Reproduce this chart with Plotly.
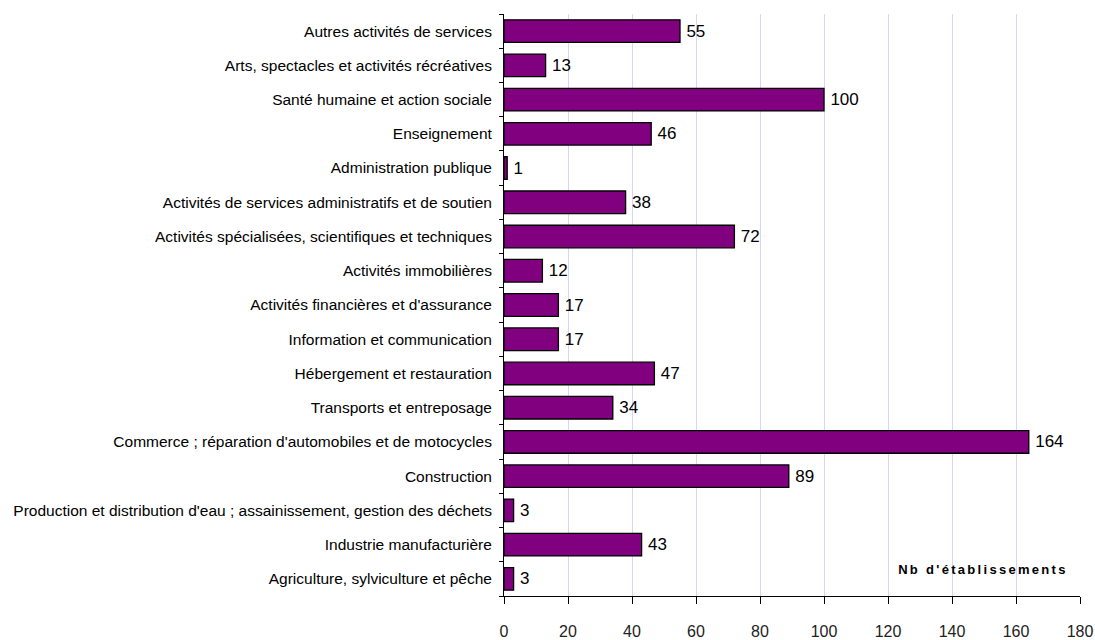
import plotly.graph_objects as go

categories = [
    "Agriculture, sylviculture et pêche",
    "Industrie manufacturière",
    "Production et distribution d'eau ; assainissement, gestion des déchets",
    "Construction",
    "Commerce ; réparation d'automobiles et de motocycles",
    "Transports et entreposage",
    "Hébergement et restauration",
    "Information et communication",
    "Activités financières et d'assurance",
    "Activités immobilières",
    "Activités spécialisées, scientifiques et techniques",
    "Activités de services administratifs et de soutien",
    "Administration publique",
    "Enseignement",
    "Santé humaine et action sociale",
    "Arts, spectacles et activités récréatives",
    "Autres activités de services",
]
values = [3, 43, 3, 89, 164, 34, 47, 17, 17, 12, 72, 38, 1, 46, 100, 13, 55]
x_ticks = [0, 20, 40, 60, 80, 100, 120, 140, 160, 180]
x_title = "Nb d'établissements"

fig = go.Figure(go.Bar(
    y=categories, x=values, orientation="h",
    marker=dict(color="#800080", line=dict(color="black", width=1.3)),
    width=0.66,
    texttemplate="\u2009%{x}", textposition="outside",
    textfont=dict(family="Liberation Sans, Arial", size=17, color="black"),
    cliponaxis=False,
))

fig.update_layout(
    width=1095, height=640,
    margin=dict(l=504, r=15, t=14, b=44),
    plot_bgcolor="white", paper_bgcolor="white",
    showlegend=False,
    font=dict(family="Liberation Sans, Arial", color="black"),
    xaxis=dict(
        range=[0, 180], tickvals=x_ticks, showgrid=True, gridcolor="#d4d4ff", gridwidth=1,
        zeroline=False, showline=True, linecolor="black", linewidth=1,
        ticks="outside", ticklen=7, tickcolor="black", automargin=False,
        tickfont=dict(size=16, color="#222"), ticklabelstandoff=14,
    ),
    yaxis=dict(
        type="category", categoryorder="array", categoryarray=categories,
        showline=True, linecolor="black", linewidth=1, showgrid=False,
        ticks="outside", ticklen=4, tickcolor="black", tickson="boundaries",
        tickfont=dict(size=15.5, color="black"), ticklabelstandoff=8, automargin=False,
        range=[-0.5, len(categories) - 0.5],
    ),
    annotations=[dict(
        text=f"<b>{x_title}</b>", x=(983 - 504) / 3.2, y=0.27, xref="x", yref="y",
        xanchor="center", yanchor="middle", showarrow=False,
        font=dict(size=13, family="Liberation Sans, Arial", color="black"),
    )],
)

post = (
    "document.body.style.margin='0';"
    "document.body.style.overflow='hidden';"
    "document.querySelectorAll('.annotation-text').forEach(function(e){e.style.letterSpacing='2.3px';});"
)
fig.write_html("out.html", post_script=post, config={"displayModeBar": False})
